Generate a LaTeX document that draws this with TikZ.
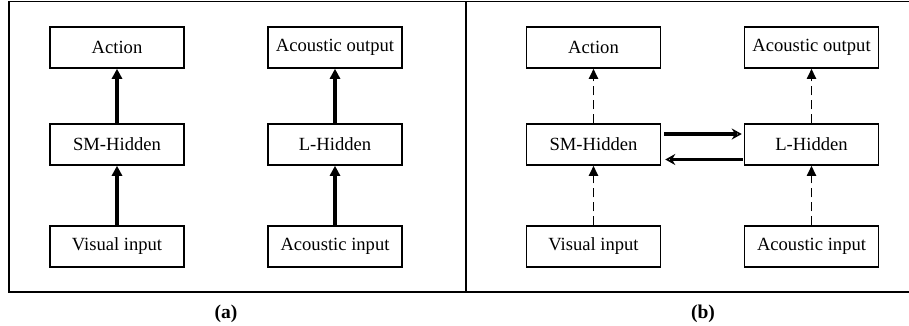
\documentclass[tikz,border=0pt]{standalone}
\usepackage{fontspec}
\setmainfont{Liberation Serif}
\usetikzlibrary{arrows.meta}
\begin{document}
\begin{tikzpicture}[x=1pt,y=-1pt,
  box/.style={draw,line width=1.5pt,minimum width=134pt,minimum height=41pt,inner sep=0pt,font=\fontsize{18.6pt}{20pt}\selectfont},
  solidarr/.style={line width=3.6pt,-{Triangle[length=10pt,width=10pt]}},
  dasharr/.style={line width=1.8pt,dash pattern=on 9pt off 5pt,-{Triangle[length=10pt,width=9pt]}},
  horarr/.style={line width=3.6pt,-{Stealth[open,length=10pt,width=11pt,line width=1.8pt]}},
  frame/.style={line width=1.8pt},
  lab/.style={font=\fontsize{19.5pt}{21pt}\selectfont\bfseries}]
\useasboundingbox (0,0) rectangle (909,325);
% frame
\coordinate (tl) at (9,1.5);
\coordinate (bl) at (9,292);
\coordinate (tr) at (909,1.5);
\coordinate (br) at (909,292);
\coordinate (dt) at (466,1.5);
\coordinate (db) at (466,292);
\draw[frame] (tr) -- (tl) -- (bl) -- (br);
\draw[frame] (dt) -- (db);
% panel a
\node[box] (aact) at (117,47.5) {Action};
\node[box] (ash) at (117,144.5) {SM-Hidden};
\node[box] (avi) at (117,246.5) {Visual input};
\node[box] (aao) at (335,47.5) {Acoustic output};
\node[box] (alh) at (335,144.5) {L-Hidden};
\node[box] (aai) at (335,246.5) {Acoustic input};
\draw[solidarr] (avi) -- (ash);
\draw[solidarr] (ash) -- (aact);
\draw[solidarr] (aai) -- (alh);
\draw[solidarr] (alh) -- (aao);
% panel b
\node[box] (bact) at (593.5,47.5) {Action};
\node[box] (bsh) at (593.5,144.5) {SM-Hidden};
\node[box] (bvi) at (593.5,246.5) {Visual input};
\node[box] (bao) at (811.5,47.5) {Acoustic output};
\node[box] (blh) at (811.5,144.5) {L-Hidden};
\node[box] (bai) at (811.5,246.5) {Acoustic input};
\draw[dasharr] (bvi) -- (bsh);
\draw[dasharr] (bsh) -- (bact);
\draw[dasharr] (bai) -- (blh);
\draw[dasharr] (blh) -- (bao);
\draw[horarr,shorten <=3pt,shorten >=2pt] ([yshift=10.5pt]bsh.east) -- ([yshift=10.5pt]blh.west);
\draw[horarr,shorten <=1pt,shorten >=4pt] ([yshift=-15pt]blh.west) -- ([yshift=-15pt]bsh.east);
% labels
\node[lab] (la) at (226,314) {(a)};
\node[lab] (lb) at (703,314) {(b)};
\end{tikzpicture}
\end{document}
